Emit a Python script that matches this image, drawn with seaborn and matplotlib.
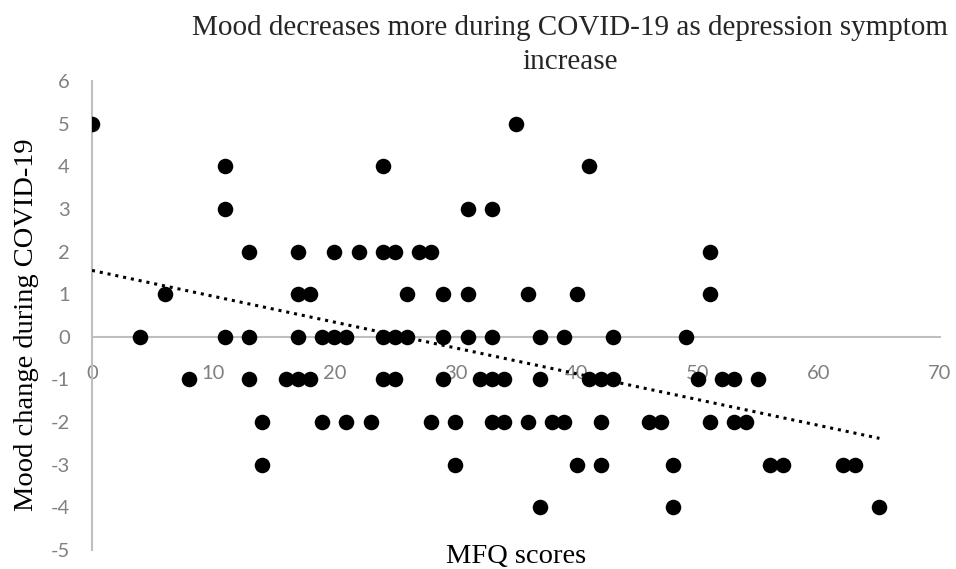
"""
Scatter of mood change during COVID-19 against MFQ scores, with linear trendline.
"""

import numpy as np
import pandas as pd
import matplotlib
matplotlib.use("Agg")
import matplotlib.pyplot as plt
import seaborn as sns

# Data, grouped by mood change value
mfq_scores = [
    0, 35,
    11, 24, 41,
    11, 31, 33,
    13, 17, 20, 22, 24, 25, 27, 28, 51,
    6, 17, 18, 26, 29, 31, 36, 40, 51,
    4, 11, 13, 17, 19, 20, 21, 24, 25, 26, 29, 31, 33, 37, 39, 43, 49,
    8, 13, 16, 17, 18, 24, 25, 29, 32, 33, 34, 37, 41, 42, 43, 50, 52, 53, 55,
    14, 19, 21, 23, 28, 30, 33, 34, 36, 38, 39, 42, 46, 47, 51, 53, 54,
    14, 30, 40, 42, 48, 56, 57, 62, 63,
    37, 48, 65,
]
mood_change = (
    [5] * 2 + [4] * 3 + [3] * 3 + [2] * 9 + [1] * 9 + [0] * 17
    + [-1] * 19 + [-2] * 17 + [-3] * 9 + [-4] * 3
)
x_ticks = [0, 10, 20, 30, 40, 50, 60, 70]
y_ticks = [-5, -4, -3, -2, -1, 0, 1, 2, 3, 4, 5, 6]

title_line1 = "Mood decreases more during COVID-19 as depression symptom"
title_line2 = "increase"
x_label = "MFQ scores"
y_label = "Mood change during COVID-19"

df = pd.DataFrame({"mfq": mfq_scores, "mood": mood_change})

sns.set_theme(style="white")
plt.rcParams["axes.unicode_minus"] = False
serif = ["Liberation Serif", "DejaVu Serif"]
sans = ["Lato", "DejaVu Sans"]
axis_grey = "#bfbfbf"
tick_grey = "#808080"

fig = plt.figure(figsize=(9.56, 5.69), dpi=100)
ax = fig.add_axes([92 / 956, 1 - 550 / 569, 848 / 956, 469 / 569])

sns.scatterplot(data=df, x="mfq", y="mood", ax=ax, color="black",
                s=125, linewidth=0, zorder=3)
sns.regplot(data=df, x="mfq", y="mood", ax=ax, scatter=False, ci=None,
            truncate=True,
            line_kws={"color": "black", "linestyle": (0, (1, 1.6)),
                      "linewidth": 2.2, "zorder": 2})

ax.set_xlim(0, 70)
ax.set_ylim(-5, 6)
ax.set_xticks(x_ticks)
ax.set_yticks(y_ticks)

# axes cross at the origin, Excel style
ax.spines["bottom"].set_position(("data", 0))
ax.spines["top"].set_visible(False)
ax.spines["right"].set_visible(False)
for side in ["bottom", "left"]:
    ax.spines[side].set_color(axis_grey)
    ax.spines[side].set_linewidth(1.5)
    ax.spines[side].set_zorder(1)

ax.tick_params(axis="x", length=0, pad=20, labelsize=14.5, labelcolor=tick_grey)
ax.tick_params(axis="y", length=0, pad=16, labelsize=14.5, labelcolor=tick_grey)
for lbl in ax.get_xticklabels() + ax.get_yticklabels():
    lbl.set_family(sans)

ax.set_xlabel(x_label, family=serif, fontsize=20.5, color="black", va="center")
ax.xaxis.set_label_coords(0.5, -0.013)
ax.set_ylabel(y_label, family=serif, fontsize=20.5, color="black", va="center")
ax.yaxis.set_label_coords(-0.077, 0.48)

fig.text(570 / 956, 1 - 35 / 569, title_line1, ha="center", va="baseline",
         family=serif, fontsize=21)
fig.text(570 / 956, 1 - 69 / 569, title_line2, ha="center", va="baseline",
         family=serif, fontsize=21)

fig.savefig("out.png", dpi=100)
plt.close(fig)
